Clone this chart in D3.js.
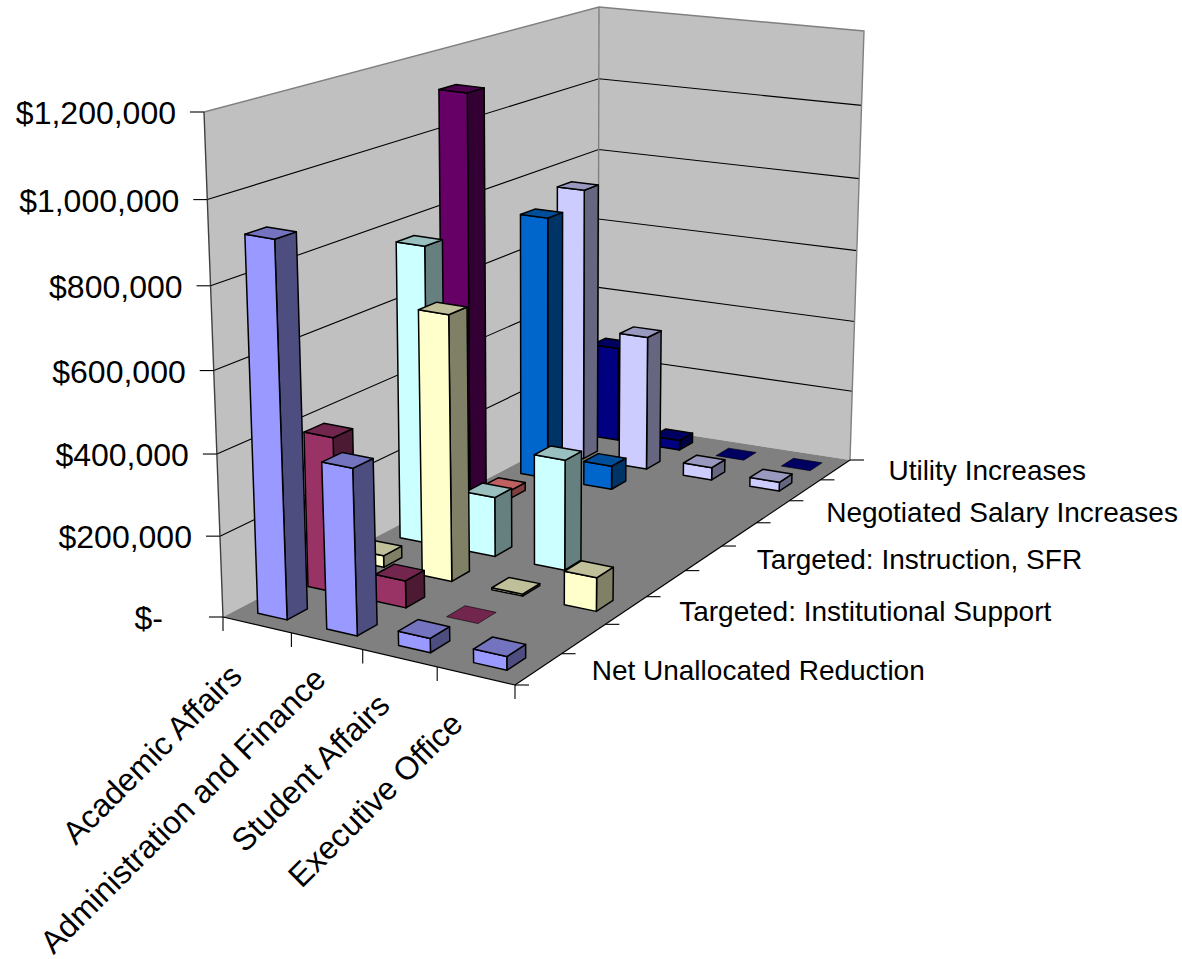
<!DOCTYPE html>
<html><head><meta charset="utf-8">
<script src="https://cdn.jsdelivr.net/npm/d3@7/dist/d3.min.js"></script>
<style>html,body{margin:0;padding:0;background:#fff}svg{display:block}text{font-family:"Liberation Sans",Arial,sans-serif;fill:#000}</style>
</head><body><svg id="c" width="1182" height="959"></svg>
<script>
const categories=["Academic Affairs","Administration and Finance","Student Affairs","Executive Office"];
const seriesNames=["Net Unallocated Reduction","Series 2","Targeted: Institutional Support","Series 4","Targeted: Instruction, SFR","Series 6","Negotiated Salary Increases","Series 8","Utility Increases"];
const seriesColors=["#9999FF","#993366","#FFFFCC","#CCFFFF","#660066","#FF8080","#0066CC","#CCCCFF","#000080"];
const s1=[915000,407000,35000,33000];
const s2=[390000,68000,0,null];
const s3=[30000,672000,5000,85000];
const s4=[770000,155000,285000,null];
const s5=[1118000,null,null,null];
const s6=[22000,null,null,null];
const s7=[722000,65000,null,null];
const s8=[760000,375000,35000,25000];
const s9=[270000,28000,0,0];
const seriesValues=[s1,s2,s3,s4,s5,s6,s7,s8,s9];
const valueTicks=[0,200000,400000,600000,800000,1000000,1200000];
const valueTickLabels=["$-","$200,000","$400,000","$600,000","$800,000","$1,000,000","$1,200,000"];
const labelledSeries=[0,2,4,6,8];
const categoryLabelNudge=[[-8,19],[6,6],[-3,15],[-6,16]];

// corners of the 3-D box on the page
const A=[223,617],B=[515,685],C=[850,460],D=[598,421],A2=[204,112],B2=[512,159],C2=[864,31],D2=[599,7];
// unit square -> quad homography
function quad(p00,p10,p11,p01){
 const dx1=p10[0]-p11[0],dx2=p01[0]-p11[0],sx=p00[0]-p10[0]+p11[0]-p01[0];
 const dy1=p10[1]-p11[1],dy2=p01[1]-p11[1],sy=p00[1]-p10[1]+p11[1]-p01[1];
 const den=dx1*dy2-dx2*dy1;
 const g=(sx*dy2-dx2*sy)/den,h=(dx1*sy-sx*dy1)/den;
 const a=p10[0]-p00[0]+g*p10[0],c=p01[0]-p00[0]+h*p01[0],b=p10[1]-p00[1]+g*p10[1],d=p01[1]-p00[1]+h*p01[1];
 return (x,z)=>{const w=g*x+h*z+1;return [(a*x+c*z+p00[0])/w,(b*x+d*z+p00[1])/w];};
}
const floorAt=quad(A,B,C,D),topAt=quad(A2,B2,C2,D2);
const K=0.047;
function project(x,y,z){
 const f=floorAt(x,z),t=topAt(x,z),u=y*(1-K)/(1-K*y);
 return [f[0]+(t[0]-f[0])*u,f[1]+(t[1]-f[1])*u];
}
const xScale=d3.scaleBand().domain(d3.range(categories.length)).range([0,1]).paddingInner(0.57).paddingOuter(0.285);
const zScale=d3.scaleBand().domain(d3.range(seriesNames.length)).range([0,1]).paddingInner(0.6).paddingOuter(0.3);
const yScale=d3.scaleLinear().domain([0,1200000]).range([0,1]);
const line=d3.line();
const svg=d3.select("#c");
const pts=a=>a.map(p=>p.join(",")).join(" ");
// walls and floor
svg.append("polygon").attr("points",pts([A,A2,D2,D])).attr("fill","#C0C0C0");
svg.append("polygon").attr("points",pts([D,D2,C2,C])).attr("fill","#C0C0C0");
svg.append("polygon").attr("points",pts([A,B,C,D])).attr("fill","#808080");
// gridlines
valueTicks.slice(1,-1).forEach(v=>{
 const y=yScale(v);
 svg.append("path").attr("d",line([project(0,y,0),project(0,y,1),project(1,y,1)])).attr("fill","none").attr("stroke","#000").attr("stroke-width",1.1);
});
// wall outline
svg.append("path").attr("d",line([A2,D2,C2,C])).attr("fill","none").attr("stroke","#808080").attr("stroke-width",1.4);
svg.append("path").attr("d",line([D2,D])).attr("stroke","#808080").attr("stroke-width",1.4);
svg.append("path").attr("d",line([A,A2])).attr("stroke","#404040").attr("stroke-width",1.4);
// axis edges & ticks
const tick=(p,dx,dy)=>svg.append("path").attr("d",line([p,[p[0]+dx,p[1]+dy]])).attr("stroke","#000").attr("stroke-width",1.1);
valueTicks.forEach(v=>tick(project(0,yScale(v),0),-14,0));
svg.append("path").attr("d",line([A,B])).attr("stroke","#000").attr("stroke-width",1.2);
svg.append("path").attr("d",line([B,C])).attr("stroke","#000").attr("stroke-width",1.1);
d3.range(categories.length+1).forEach(i=>tick(project(i/categories.length,0,0),0,14));
d3.range(seriesNames.length+1).forEach(i=>tick(project(1,0,i/seriesNames.length),14,0));
// bars, back row first, left to right
const shade=(c,k)=>{const r=d3.rgb(c);return d3.rgb(r.r*k,r.g*k,r.b*k).formatHex();};
d3.range(seriesNames.length-1,-1,-1).forEach(si=>{
 categories.forEach((_,ci)=>{
  const val=seriesValues[si][ci];
  if(val===null)return;
  const x0=xScale(ci),x1=x0+xScale.bandwidth(),z0=zScale(si),z1=z0+zScale.bandwidth(),y=yScale(val);
  const g=svg.append("g").attr("stroke","#000").attr("stroke-width",val===0?0.6:1.5).attr("stroke-linejoin","round");
  if(val>0){
   g.append("polygon").attr("points",pts([project(x1,0,z0),project(x1,0,z1),project(x1,y,z1),project(x1,y,z0)])).attr("fill",shade(seriesColors[si],.5));
   g.append("polygon").attr("points",pts([project(x0,0,z0),project(x1,0,z0),project(x1,y,z0),project(x0,y,z0)])).attr("fill",seriesColors[si]);
  }
  g.append("polygon").attr("points",pts([project(x0,y,z0),project(x1,y,z0),project(x1,y,z1),project(x0,y,z1)])).attr("fill",shade(seriesColors[si],.75));
 });
});
// labels
valueTicks.forEach((v,i)=>{
 const p=project(0,yScale(v),0);
 svg.append("text").attr("x",p[0]-28-(v===0?32:0)).attr("y",p[1]+12).attr("text-anchor","end").attr("font-size",32).text(valueTickLabels[i]);
});
categories.forEach((c,i)=>{
 const p=project((i+.5)/categories.length,0,0),n=categoryLabelNudge[i];
 svg.append("text").attr("transform",`translate(${p[0]-5+n[0]},${p[1]+34+n[1]}) rotate(-45)`).attr("text-anchor","end").attr("font-size",32).text(c);
});
labelledSeries.forEach(si=>{
 const p=project(1,0,(si+.5)/seriesNames.length);
 svg.append("text").attr("x",p[0]+53).attr("y",p[1]+10.5).attr("font-size",28).text(seriesNames[si]);
});
</script></body></html>
